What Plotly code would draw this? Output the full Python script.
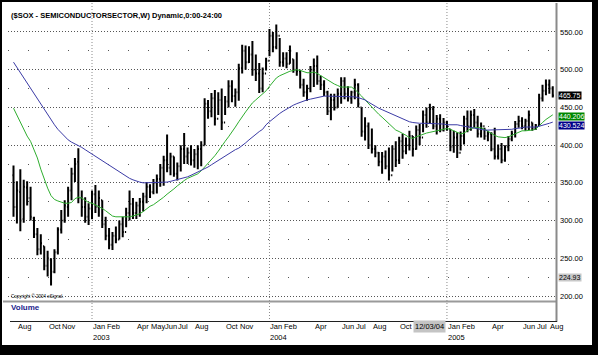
import pandas as pd
import plotly.graph_objects as go

# ---------------- data (weekly bars, $SOX) ----------------
week_start = "2002-07-29"
n_bars = 159
dates = pd.date_range(week_start, periods=n_bars, freq="7D")

highs = [373, 352, 368, 354, 352, 345, 305, 290, 282, 266, 260, 250, 262, 291, 314, 327, 345, 370, 383, 396,
         340, 331, 323, 340, 347, 340, 327, 305, 290, 285, 292, 300, 305, 317, 340, 330, 325, 330, 337, 351,
         348, 355, 361, 375, 386, 414, 390, 385, 377, 400, 416, 397, 400, 395, 400, 405, 462, 460, 469, 473,
         470, 475, 465, 486, 486, 475, 508, 533, 532, 531, 538, 520, 509, 503, 516, 554, 550, 560, 542, 523,
         523, 532, 514, 523, 500, 488, 480, 505, 515, 519, 492, 486, 472, 468, 468, 475, 490, 490, 478, 472,
         488, 482, 450, 437, 430, 422, 400, 391, 391, 393, 397, 400, 405, 411, 415, 410, 419, 412, 426, 428,
         446, 450, 455, 452, 440, 441, 436, 432, 421, 419, 417, 418, 439, 446, 446, 448, 439, 430, 423, 419,
         417, 423, 401, 403, 400, 412, 419, 432, 439, 437, 435, 446, 430, 428, 468, 480, 487, 487, 478]
lows = [305, 296, 286, 297, 320, 300, 277, 254, 255, 234, 226, 214, 230, 255, 283, 297, 305, 327, 351, 323,
        305, 297, 294, 302, 310, 305, 290, 274, 262, 261, 270, 275, 278, 291, 300, 302, 302, 305, 312, 323,
        330, 335, 336, 345, 346, 364, 360, 358, 353, 365, 375, 375, 373, 370, 368, 372, 400, 435, 437, 426,
        440, 420, 440, 450, 457, 451, 459, 495, 500, 509, 492, 485, 469, 470, 499, 518, 523, 527, 504, 504,
        502, 508, 496, 492, 475, 464, 459, 470, 477, 480, 473, 465, 440, 433, 446, 450, 455, 461, 458, 455,
        461, 450, 411, 406, 395, 389, 384, 372, 362, 368, 353, 365, 371, 375, 382, 388, 393, 385, 394, 400,
        417, 423, 428, 421, 414, 417, 418, 419, 392, 390, 383, 393, 401, 417, 419, 423, 410, 410, 407, 405,
        392, 381, 381, 376, 378, 392, 405, 410, 423, 421, 419, 420, 419, 420, 425, 458, 466, 468, 463]
opens = [360, 318, 338, 302, 344, 330, 303, 282, 262, 266, 240, 248, 232, 258, 288, 300, 318, 340, 362, 378,
         330, 318, 305, 316, 335, 318, 327, 295, 280, 268, 280, 275, 295, 285, 310, 322, 310, 320, 325, 332,
         345, 338, 350, 355, 370, 380, 370, 385, 362, 372, 395, 385, 390, 380, 388, 395, 400, 455, 445, 462,
         435, 460, 430, 458, 478, 465, 470, 502, 525, 510, 520, 500, 495, 475, 495, 512, 545, 530, 545, 510,
         515, 508, 514, 500, 498, 480, 470, 475, 500, 505, 485, 480, 470, 445, 460, 450, 468, 485, 468, 462,
         470, 480, 450, 418, 425, 400, 395, 390, 378, 385, 372, 360, 395, 380, 405, 392, 400, 412, 395, 420,
         410, 440, 430, 448, 425, 435, 420, 430, 421, 398, 410, 390, 412, 435, 425, 440, 430, 415, 425, 412,
         415, 395, 385, 395, 380, 398, 408, 415, 428, 432, 425, 432, 430, 422, 426, 462, 472, 480, 475]
closes = [318, 340, 300, 345, 330, 305, 282, 262, 270, 240, 250, 232, 258, 288, 300, 320, 340, 362, 375, 330,
          318, 305, 316, 335, 318, 330, 295, 280, 268, 280, 275, 295, 285, 310, 322, 310, 320, 325, 332, 345,
          338, 350, 355, 370, 380, 370, 385, 362, 372, 395, 385, 390, 380, 388, 395, 400, 455, 445, 462, 435,
          460, 430, 458, 478, 465, 470, 502, 525, 510, 520, 500, 495, 475, 495, 512, 545, 530, 545, 510, 515,
          508, 525, 500, 498, 480, 470, 475, 500, 505, 485, 480, 470, 445, 460, 450, 468, 485, 468, 462, 470,
          480, 455, 418, 425, 400, 395, 390, 378, 385, 372, 360, 395, 380, 405, 392, 400, 412, 395, 420, 410,
          440, 430, 448, 425, 435, 420, 430, 425, 398, 410, 390, 412, 435, 425, 440, 430, 415, 425, 412, 415,
          395, 385, 395, 380, 398, 408, 415, 428, 432, 425, 432, 440, 422, 426, 462, 472, 480, 475, 465.75]

ma_green = [449, 440, 429, 420, 412, 405, 395, 383, 368, 355, 343, 333, 328, 326, 324, 323, 323, 324, 329, 331,
            330, 327, 324, 323, 321, 319, 316, 313, 309, 306, 305, 305, 305, 305, 305, 306, 307, 309, 312, 316,
            319, 321, 324, 327, 331, 335, 338, 342, 346, 350, 353, 356, 358, 360, 362, 366, 371, 376, 380, 386,
            392, 399, 405, 411, 417, 424, 431, 438, 444, 450, 456, 460, 464, 468, 472, 478, 484, 489, 492, 494,
            497, 498, 499, 500, 499, 497, 496, 496, 497, 495, 492, 489, 487, 484, 481, 479, 477, 477, 477, 477,
            474, 470, 465, 460, 455, 450, 446, 441, 437, 433, 429, 424, 420, 418, 416, 413, 410, 409, 411, 413,
            415, 416, 417, 418, 419, 420, 421, 422, 421, 419, 417, 415, 416, 419, 422, 423, 423, 423, 421, 418,
            416, 413, 411, 410, 410, 411, 413, 416, 418, 419, 419, 420, 420, 421, 426, 430, 434, 437, 440.206]
ma_blue = [510, 503, 496, 489, 482, 475, 469, 462, 455, 448, 440, 433, 427, 421, 416, 411, 407, 404, 402, 400,
           397, 394, 391, 389, 386, 383, 380, 377, 373, 370, 367, 364, 361, 358, 356, 354, 352, 351, 350, 350,
           350, 350, 350, 350, 351, 351, 352, 353, 354, 355, 357, 358, 360, 362, 364, 366, 368, 371, 374, 377,
           380, 382, 385, 388, 391, 394, 396, 399, 403, 407, 411, 414, 418, 421, 427, 431, 435, 439, 442, 445,
           448, 451, 453, 455, 457, 459, 460, 461, 462, 463, 464, 465, 465, 465, 465, 465, 465, 465, 465, 465,
           464, 463, 462, 460, 457, 454, 451, 449, 447, 445, 443, 441, 439, 436, 434, 432, 431, 430, 429, 429,
           429, 429, 429, 429, 429, 428, 428, 427, 427, 427, 427, 426, 425, 424, 423, 423, 422, 421, 420, 420,
           420, 420, 420, 420, 420, 420, 421, 422, 423, 423, 424, 424, 424, 424, 425, 426, 428, 429, 430.524]

price_ticks = [200, 250, 300, 350, 400, 450, 500, 550]
price_tick_text = ["200.00", "250.00", "300.00", "350.00", "400.00", "450.00", "500.00", "550.00"]
price_minor = [225, 275, 325, 375, 425, 475, 525]

month_labels = [("2002-08-05", "Aug"), ("2002-10-07", "Oct"), ("2002-11-04", "Nov"),
                ("2003-01-06", "Jan"), ("2003-02-03", "Feb"), ("2003-04-07", "Apr"), ("2003-05-05", "May"),
                ("2003-06-02", "Jun"), ("2003-06-30", "Jul"), ("2003-08-04", "Aug"), ("2003-10-06", "Oct"),
                ("2003-11-03", "Nov"), ("2004-01-05", "Jan"), ("2004-02-02", "Feb"), ("2004-04-05", "Apr"),
                ("2004-05-31", "Jun"), ("2004-06-28", "Jul"), ("2004-08-02", "Aug"), ("2004-09-27", "Oct"),
                ("2005-01-03", "Jan"), ("2005-01-31", "Feb"), ("2005-04-04", "Apr"), ("2005-06-06", "Jun"),
                ("2005-07-04", "Jul"), ("2005-08-01", "Aug")]
year_labels = [("2003-01-06", "2003"), ("2004-01-05", "2004"), ("2005-01-03", "2005")]
year_starts = ["2003-01-06", "2004-01-05", "2005-01-03"]

last_close = 465.75
last_green = 440.206
last_blue = 430.524
cursor_price = 224.93
cursor_date = "2004-11-29"
cursor_date_text = "12/03/04"

# ---------------- layout helpers ----------------
W, H = 598, 355
L, R, T, B = 8, 556, 5, 322
BAR0_PX, BAR_PX = 13.5, 3.413


def px(x):
    return (x - L) / (R - L)


def py(y):
    return (B - y) / (B - T)


t0 = pd.Timestamp(week_start)
x_left = t0 + pd.Timedelta(days=7 * (L - BAR0_PX) / BAR_PX)
x_right = t0 + pd.Timedelta(days=7 * (R - BAR0_PX) / BAR_PX)
# price pane: pixel 5..300
y_lo = 200 + (296 - 300) / 0.7543
y_hi = 200 + (296 - 5) / 0.7543

FONT = "Liberation Sans, Arial, sans-serif"

fig = go.Figure()
fig.add_trace(go.Ohlc(x=dates, open=opens, high=highs, low=lows, close=closes,
                      increasing=dict(line=dict(color="black", width=2)),
                      decreasing=dict(line=dict(color="black", width=2)),
                      tickwidth=0.35, hoverinfo="skip", showlegend=False))
fig.add_trace(go.Scatter(x=dates, y=ma_green, mode="lines",
                         line=dict(color="#2fae2f", width=1), hoverinfo="skip", showlegend=False))
fig.add_trace(go.Scatter(x=dates, y=ma_blue, mode="lines",
                         line=dict(color="#3b3ba6", width=1), hoverinfo="skip", showlegend=False))

shapes = []
# white inner canvas inside black frame
shapes.append(dict(type="rect", xref="paper", yref="paper", x0=px(2), x1=px(592), y0=py(345), y1=py(2),
                   fillcolor="white", line=dict(width=0), layer="below"))
# year separators
for d in year_starts:
    shapes.append(dict(type="line", xref="x", yref="paper", x0=d, x1=d, y0=0, y1=py(3),
                       line=dict(color="#8a8a8a", width=1, dash="1px,2px"), layer="below"))
# volume pane separator
shapes.append(dict(type="line", xref="paper", yref="paper", x0=px(3), x1=px(557), y0=py(301.5), y1=py(301.5),
                   line=dict(color="#9a9a9a", width=2)))
# right price axis line
shapes.append(dict(type="line", xref="paper", yref="paper", x0=px(556.5), x1=px(556.5), y0=py(322), y1=py(3),
                   line=dict(color="#8a8a8a", width=2)))
# bottom time axis line
shapes.append(dict(type="line", xref="paper", yref="paper", x0=px(10), x1=px(557), y0=py(321.5), y1=py(321.5),
                   line=dict(color="#202020", width=1)))

ann = []
ann.append(dict(text="<b>($SOX - SEMICONDUCTORSECTOR,W) Dynamic,0:00-24:00</b>", xref="paper", yref="paper",
                x=px(9), y=py(15), xanchor="left", yanchor="middle", showarrow=False,
                font=dict(family=FONT, size=7.5, color="black")))
ann.append(dict(text="Copyright © 2004 eSignal.", xref="paper", yref="paper", x=px(9), y=py(296),
                xanchor="left", yanchor="middle", showarrow=False,
                font=dict(family=FONT, size=4.5, color="black")))
ann.append(dict(text="<b>Volume</b>", xref="paper", yref="paper", x=px(9), y=py(307.5),
                xanchor="left", yanchor="middle", showarrow=False,
                font=dict(family=FONT, size=8, color="#1c1c8c")))
for d, t in month_labels:
    ann.append(dict(text=t, xref="x", yref="paper", x=d, y=py(326.5), xanchor="left", yanchor="middle",
                    showarrow=False, borderpad=0, font=dict(family=FONT, size=7.5, color="black")))
for d, t in year_labels:
    ann.append(dict(text=t, xref="x", yref="paper", x=d, y=py(338), xanchor="left", yanchor="middle",
                    showarrow=False, borderpad=0, font=dict(family=FONT, size=7.5, color="black")))
ann.append(dict(text=cursor_date_text, xref="x", yref="paper", x=cursor_date, y=py(326.5), xanchor="center",
                yanchor="middle", showarrow=False, bgcolor="#c4c4c4", borderpad=1,
                font=dict(family=FONT, size=7.5, color="black")))

for val, txt, bg, fg, ys in [(last_close, "465.75", "black", "white", 0),
                             (last_green, "440.206", "#008800", "white", -1.5),
                             (last_blue, "430.524", "#000088", "white", -3),
                             (cursor_price, "224.93", "#c8c8c8", "black", 0)]:
    ann.append(dict(text=txt, xref="paper", yref="y", x=px(557.5), y=val, xanchor="left", yanchor="middle",
                    yshift=ys, showarrow=False, bgcolor=bg, borderpad=0,
                    font=dict(family=FONT, size=7, color=fg)))

fig.update_layout(
    width=W, height=H,
    margin=dict(l=L, r=W - R, t=T, b=H - B, pad=0),
    paper_bgcolor="black", plot_bgcolor="rgba(0,0,0,0)",
    showlegend=False,
    shapes=shapes, annotations=ann,
    xaxis=dict(type="date", range=[x_left, x_right], showgrid=False, zeroline=False, showline=False,
               showticklabels=False, ticks="", anchor="free", position=0,
               rangeslider=dict(visible=False), fixedrange=True),
    yaxis=dict(domain=[py(300), 1], range=[y_lo, y_hi], side="right", tickmode="array",
               tickvals=price_ticks, ticktext=price_tick_text, ticks="", ticklabelstandoff=3,
               tickfont=dict(family=FONT, size=7.5, color="black"),
               showgrid=True, gridcolor="#555555", gridwidth=1, griddash="1px,2px",
               minor=dict(tickmode="array", tickvals=price_minor, showgrid=True, gridcolor="#555555",
                          gridwidth=1, griddash="1px,19px", ticks=""),
               zeroline=False, showline=False, fixedrange=True),
)

fig.write_html("out.html", config={"displayModeBar": False})
